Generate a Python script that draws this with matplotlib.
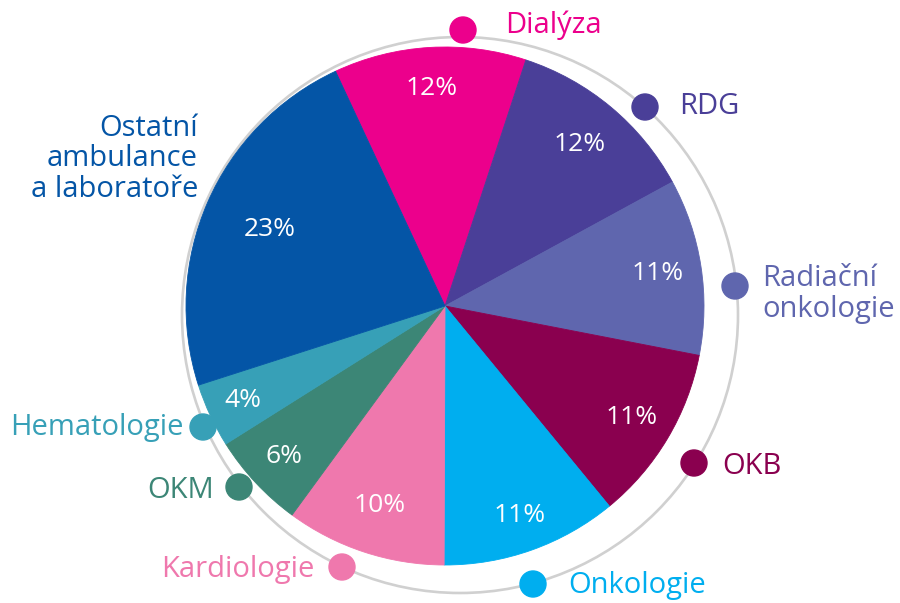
import matplotlib.pyplot as plt
import numpy as np
from matplotlib.patches import Circle

plt.rcParams['font.family'] = ['Open Sans', 'DejaVu Sans']

# data
labels = ['Dialýza', 'RDG', 'Radiační\nonkologie', 'OKB', 'Onkologie',
          'Kardiologie', 'OKM', 'Hematologie', 'Ostatní\nambulance\na laboratoře']
shares = [12, 12, 11, 11, 11, 10, 6, 4, 23]
colors = ['#EC008C', '#4A3F98', '#5F66AE', '#8A004F', '#00AEEF',
          '#EF78AD', '#3C8676', '#37A0B7', '#0455A6']

H = 603


def Y(py):
    return H - py


# label layout (pixel coords in the picture): dot centre, text anchor, alignment
dots = [(463, 30), (645, 107), (735, 286), (694, 463), (533, 584),
        (342, 567), (239, 487), (203, 427), None]
texts = [(505, 25, 'left'), (679, 107, 'left'), (762, 294, 'left'),
         (722, 467, 'left'), (568, 585, 'left'), (314, 569, 'right'),
         (214, 491, 'right'), (184, 428, 'right'), (198, 159, 'right')]
pct_dist = [0.84, 0.81, 0.83, 0.84, 0.86, 0.81, 0.85, 0.86, 0.74]

fig = plt.figure(figsize=(9, 6.03), dpi=100)
ax = fig.add_axes([0, 0, 1, 1])

# grey ring behind the pie
ax.add_patch(Circle((460, Y(315)), 278, fill=False, ec='#d0d0d0', lw=1.9, zorder=1))

cx, cy, r = 445, Y(306), 259
wedges, _ = ax.pie(shares, colors=colors, startangle=115, counterclock=False,
                   center=(cx, cy), radius=r, frame=True,
                   wedgeprops={'linewidth': 0.6, 'zorder': 2})
for w, c in zip(wedges, colors):
    w.set_edgecolor(c)
ax.set_xlim(0, 900)
ax.set_ylim(0, H)
ax.set_aspect('equal')
ax.axis('off')

for w, val, d in zip(wedges, shares, pct_dist):
    a = np.deg2rad((w.theta1 + w.theta2) / 2)
    ax.text(cx + d * r * np.cos(a), cy + d * r * np.sin(a), f'{val}%',
            color='white', fontsize=19, fontweight='normal',
            ha='center', va='center', zorder=5)

for lab, col, dot, (tx, ty, ha) in zip(labels, colors, dots, texts):
    if dot is not None:
        ax.add_patch(Circle((dot[0], Y(dot[1])), 13, color=col, zorder=4))
    ax.text(tx, Y(ty), lab, color=col, fontsize=21, fontweight='normal',
            ha=ha, va='center', linespacing=1.05, multialignment=ha, zorder=5)

fig.savefig('out.png', dpi=100)
